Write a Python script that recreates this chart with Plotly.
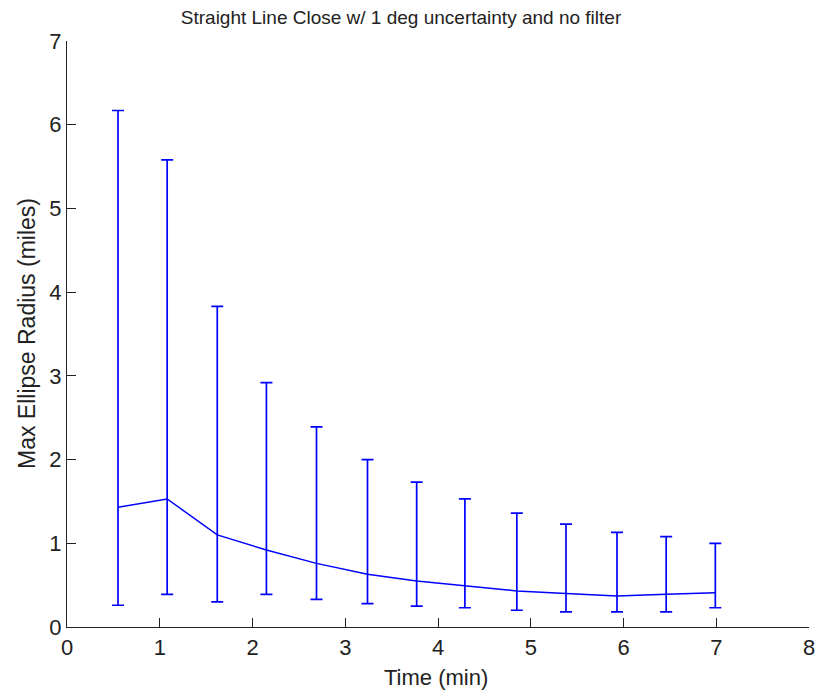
import plotly.graph_objects as go

time_min = [0.55, 1.08, 1.62, 2.15, 2.69, 3.24, 3.77, 4.29, 4.85, 5.38, 5.93, 6.46, 6.99]
radius = [1.43, 1.53, 1.10, 0.92, 0.76, 0.63, 0.55, 0.49, 0.43, 0.40, 0.37, 0.39, 0.41]
upper = [6.17, 5.58, 3.83, 2.92, 2.39, 2.00, 1.73, 1.53, 1.36, 1.23, 1.13, 1.08, 1.00]
lower = [0.26, 0.39, 0.30, 0.39, 0.33, 0.28, 0.25, 0.23, 0.20, 0.18, 0.18, 0.18, 0.23]

x_ticks = [0, 1, 2, 3, 4, 5, 6, 7, 8]
y_ticks = [0, 1, 2, 3, 4, 5, 6, 7]

err_plus = [u - r for u, r in zip(upper, radius)]
err_minus = [r - l for r, l in zip(radius, lower)]

FONT = "Liberation Sans, Arial, sans-serif"
TXT = "#222222"
W, H = 817, 694
ML, MR, MT, MB = 67, 8, 41, 67

fig = go.Figure()
fig.add_trace(go.Scatter(
    x=time_min, y=radius, mode="lines",
    line=dict(color="#0000FF", width=1.5),
    error_y=dict(type="data", symmetric=False, array=err_plus, arrayminus=err_minus,
                 color="#0000FF", thickness=1.7, width=6),
    showlegend=False,
))

fig.update_layout(
    width=W, height=H,
    margin=dict(l=ML, r=MR, t=MT, b=MB, autoexpand=False),
    paper_bgcolor="white", plot_bgcolor="white",
    font=dict(family=FONT, size=22, color=TXT),
    title=dict(text="Straight Line Close w/ 1 deg uncertainty and no filter",
               x=401 / W, xanchor="center", y=1 - 17 / H, yanchor="middle",
               font=dict(family=FONT, size=19, color=TXT)),
    annotations=[
        dict(text="Time (min)", xref="paper", yref="paper",
             x=(436 - ML) / (W - ML - MR), y=-(677 - (H - MB)) / (H - MT - MB),
             xanchor="center", yanchor="middle", showarrow=False,
             font=dict(family=FONT, size=22, color=TXT)),
        dict(text="Max Ellipse Radius (miles)", xref="paper", yref="paper",
             x=-(ML - 27) / (W - ML - MR), y=0.5, textangle=-90,
             xanchor="center", yanchor="middle", showarrow=False,
             font=dict(family=FONT, size=23, color=TXT)),
    ],
)
fig.update_xaxes(
    range=[0, 8], tickvals=x_ticks, ticktext=[str(v) for v in x_ticks],
    showline=True, linecolor=TXT, linewidth=1.2, automargin=False,
    ticks="inside", ticklen=9, tickcolor=TXT, tickwidth=1.2,
    showgrid=False, zeroline=False,
)
fig.update_yaxes(
    range=[0, 7], tickvals=y_ticks, ticktext=[str(v) for v in y_ticks],
    showline=True, linecolor=TXT, linewidth=1.2, automargin=False,
    ticks="inside", ticklen=9, tickcolor=TXT, tickwidth=1.2,
    showgrid=False, zeroline=False,
)

fig.write_html("out.html")
